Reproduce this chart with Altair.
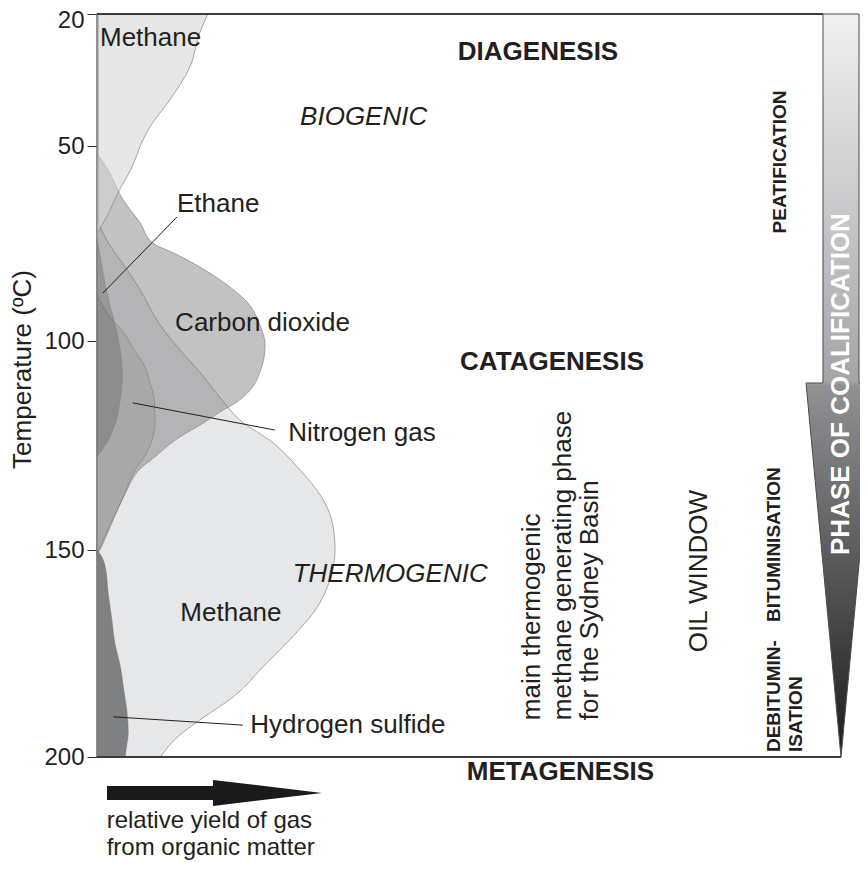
import altair as alt
import pandas as pd

# ---------------- data (temperature in degC, relative gas yield 0-100) ----------------
T_TICKS = [20, 50, 100, 150, 200]

METHANE_BIO_T = [20, 24.3, 32.0, 39.5, 45.7, 49.3, 55.4, 62.1, 68.2, 72.3]
METHANE_BIO_Y = [14.9, 13.8, 12.5, 9.8, 7.1, 6.0, 4.7, 2.8, 1.3, 0]

CO2_T = [51.8, 56.9, 63.8, 69.7, 74.9, 77.9, 81.0, 86.2, 90.3, 95.9, 101.0, 106.9,
         111.7, 114.6, 117.0, 119.4, 123.7, 127.7, 130.4, 136.4, 143.5, 148.8, 151.2]
CO2_Y = [0, 1.7, 3.5, 5.8, 7.5, 10.8, 13.8, 17.9, 20.3, 21.9, 22.6, 22.0,
         20.6, 18.8, 16.5, 14.5, 10.5, 7.8, 5.9, 3.8, 2.0, 0.7, 0]

METHANE_TH_T = [69.0, 75.4, 81.0, 86.9, 95.9, 102.2, 107.4, 114.1, 118.9, 124.4, 130.1,
                138.0, 144.0, 150.0, 157.2, 163.8, 171.7, 177.3, 185.5, 191.1, 195.2, 200]
METHANE_TH_Y = [0, 1.7, 3.8, 5.8, 8.5, 11.2, 13.8, 16.8, 19.2, 23.7, 26.9,
                30.4, 31.7, 32.0, 31.3, 29.6, 25.9, 22.8, 18.3, 13.8, 10.8, 8.5]

NITROGEN_T = [88.2, 93.3, 97.9, 102.2, 105.3, 109.8, 114.1, 118.9, 123.7, 127.3, 130.9,
              138.0, 144.5, 149.5, 151.2]
NITROGEN_Y = [0, 1.5, 3.6, 5.0, 6.2, 7.1, 7.7, 7.8, 7.4, 6.5, 5.1, 3.4, 1.6, 0.4, 0]

ETHANE_T = [73.6, 79.2, 85.6, 90.8, 97.2, 103.3, 108.1, 114.1, 120.1, 124.4, 127.7]
ETHANE_Y = [0, 0.5, 1.1, 1.7, 2.6, 3.2, 3.4, 3.1, 2.4, 1.3, 0]

H2S_T = [150, 151.5, 154.0, 160.4, 166.9, 172.5, 177.8, 183.8, 188.6, 194.2, 198.3, 200]
H2S_Y = [0, 0.6, 1.1, 1.5, 2.0, 2.4, 3.1, 3.6, 4.0, 4.2, 3.9, 3.8]

# gas labels
GAS_LABELS = ["Methane", "Ethane", "Carbon dioxide", "Nitrogen gas", "Methane", "Hydrogen sulfide"]
GAS_LABEL_X = [0.4, 10.75, 10.5, 25.7, 11.2, 20.6]
GAS_LABEL_T = [25.5, 64.9, 95.4, 122.0, 165.2, 192.3]

# leader lines (from shape to label)
LEADER_X1 = [0.8, 4.8, 2.2]
LEADER_T1 = [87.7, 114.8, 190.3]
LEADER_X2 = [10.75, 23.9, 19.6]
LEADER_T2 = [68.2, 121.3, 192.3]

ORIGIN_LABELS = ["BIOGENIC", "THERMOGENIC"]
ORIGIN_X = [27.3, 26.3]
ORIGIN_T = [43.4, 155.8]

STAGE_LABELS = ["DIAGENESIS", "CATAGENESIS", "METAGENESIS"]
STAGE_X = [48.5, 48.8, 49.7]
STAGE_T = [28.6, 105.0, 203.6]

PHASE_LINES = ["main thermogenic", "methane generating phase", "for the Sydney Basin"]
PHASE_X = [58.5, 62.6, 66.3]
PHASE_T = [191.1, 191.1, 191.1]

OIL_LABEL = ["OIL WINDOW"]
OIL_X = [80.9]
OIL_T = [155.1]

COAL_STAGE_LABELS = ["BITUMINISATION", "DEBITUMIN-", "ISATION"]
COAL_STAGE_X = [91.0, 91.0, 94.0]
COAL_STAGE_T = [167.4, 198.8, 198.8]

PEAT_LABEL = ["PEATIFICATION"]
PEAT_X = [91.8]
PEAT_T = [54.1]

COAL_ARROW_LABEL = ["PHASE OF COALIFICATION"]
COAL_ARROW_LABEL_X = [100.0]
COAL_ARROW_LABEL_T = [151.2]

# coalification arrow outline (temperature, left / right yield edges)
COAL_ARROW_T = [20, 110.05, 110.05, 200]
COAL_ARROW_L = [97.58, 97.58, 95.3, 100.0]
COAL_ARROW_R = [102.42, 102.42, 104.7, 100.0]

# relative-yield arrow below the chart
YIELD_ARROW_X = [1.34, 15.59, 15.59, 30.24]
YIELD_ARROW_T_TOP = [207.0, 207.0, 205.55, 208.69]
YIELD_ARROW_T_BOT = [210.38, 210.38, 211.83, 208.69]

YIELD_TEXT = ["relative yield of gas", "from organic matter"]
YIELD_TEXT_X = [1.3, 1.3]
YIELD_TEXT_T = [217.15, 223.67]

FRAME_T = [20, 200]
FRAME_X_END = [97.58, 100.0]

# ---------------- chart helpers ----------------
FONT = "Liberation Sans"
INK = "#231f20"

xscale = alt.Scale(domain=[0, 100], nice=False, zero=False)
yscale = alt.Scale(domain=T_TICKS, range=[0, 132, 327, 536, 743], nice=False, zero=False)
yaxis = alt.Axis(
    values=T_TICKS, grid=False, labelFont=FONT, labelFontSize=24, labelColor=INK,
    tickSize=10, tickColor="#333333", tickWidth=1, labelPadding=3,
    labelOffset={"condition": {"test": "datum.value == 20", "value": 6}, "value": 0},
    domainColor="#3c3c3c", domainWidth=2,
    titleFont=FONT, titleFontSize=26, titleFontWeight="normal", titleColor=INK,
    titleAngle=270, titleAlign="center", titleBaseline="middle",
    titleX=-75, titleY=355,
)


def X(field):
    return alt.X(field, type="quantitative", scale=xscale, axis=None)


def Y(field):
    return alt.Y(field, type="quantitative", scale=yscale, axis=yaxis, title="Temperature (ºC)")


def gas_area(T, Y_, **mark):
    df = pd.DataFrame({"T": T, "x": Y_, "x0": [0] * len(T)})
    return alt.Chart(df).mark_area(orient="horizontal", interpolate="monotone", **mark).encode(
        y=Y("T"), x=X("x"), x2=alt.X2("x0:Q")
    )


def text_layer(texts, xs, ts, **mark):
    df = pd.DataFrame({"label": texts, "x": xs, "T": ts})
    return alt.Chart(df).mark_text(font=FONT, **mark).encode(
        x=X("x"), y=Y("T"), text="label:N"
    )


OUTLINE = dict(stroke="#858585", strokeWidth=0.7)

layers = [
    gas_area(METHANE_TH_T, METHANE_TH_Y, fill="#e6e7e8", fillOpacity=1, **OUTLINE),
    gas_area(CO2_T, CO2_Y, fill="#747577", fillOpacity=0.44, **OUTLINE),
    gas_area(METHANE_BIO_T, METHANE_BIO_Y, fill="#d4d5d7", fillOpacity=0.59, **OUTLINE),
    gas_area(NITROGEN_T, NITROGEN_Y, fill="#000000", fillOpacity=0.067, **OUTLINE),
    gas_area(ETHANE_T, ETHANE_Y, fill="#000000", fillOpacity=0.155, **OUTLINE),
    gas_area(H2S_T, H2S_Y, fill="#7f8082", fillOpacity=1, stroke="#777777", strokeWidth=0.5),
]

# frame lines (top and bottom)
frame_df = pd.DataFrame({"T": FRAME_T, "x0": [0, 0], "x1": FRAME_X_END})
layers.append(
    alt.Chart(frame_df).mark_rule(color="#3c3c3c", strokeWidth=2).encode(
        y=Y("T"), x=X("x0"), x2=alt.X2("x1:Q")
    )
)

# leader lines
lead_df = pd.DataFrame({"x": LEADER_X1, "T": LEADER_T1, "x2": LEADER_X2, "T2": LEADER_T2})
layers.append(
    alt.Chart(lead_df).mark_rule(color=INK, strokeWidth=1).encode(
        x=X("x"), y=Y("T"), x2=alt.X2("x2:Q"), y2=alt.Y2("T2:Q")
    )
)

# coalification arrow with gradient
coal_grad = alt.Gradient(
    gradient="linear",
    stops=[
        alt.GradientStop(color="#f0f0f1", offset=0),
        alt.GradientStop(color="#a4a5a7", offset=0.495),
        alt.GradientStop(color="#909193", offset=0.5),
        alt.GradientStop(color="#1e1c1d", offset=1),
    ],
    x1=0, x2=0, y1=0, y2=1,
)
coal_df = pd.DataFrame({"T": COAL_ARROW_T, "l": COAL_ARROW_L, "r": COAL_ARROW_R})
layers.append(
    alt.Chart(coal_df).mark_area(orient="horizontal", fill=coal_grad, stroke="#4a4a4a", strokeWidth=1).encode(
        y=Y("T"), x=X("l"), x2=alt.X2("r:Q")
    )
)

# relative yield arrow
ya_df = pd.DataFrame({"x": YIELD_ARROW_X, "T": YIELD_ARROW_T_TOP, "T2": YIELD_ARROW_T_BOT})
layers.append(
    alt.Chart(ya_df).mark_area(orient="vertical", fill="#1a1a1a").encode(
        x=X("x"), y=Y("T"), y2=alt.Y2("T2:Q")
    )
)

# texts
layers += [
    text_layer(GAS_LABELS, GAS_LABEL_X, GAS_LABEL_T, fontSize=26, align="left", baseline="middle", color=INK),
    text_layer(ORIGIN_LABELS, ORIGIN_X, ORIGIN_T, fontSize=26, fontStyle="italic", align="left",
               baseline="middle", color=INK),
    text_layer(STAGE_LABELS, STAGE_X, STAGE_T, fontSize=26, fontWeight="bold", align="left",
               baseline="middle", color=INK),
    text_layer(PHASE_LINES, PHASE_X, PHASE_T, fontSize=26, angle=270, align="left",
               baseline="middle", color=INK),
    text_layer(OIL_LABEL, OIL_X, OIL_T, fontSize=26, angle=270, align="center",
               baseline="middle", color=INK),
    text_layer(COAL_STAGE_LABELS, COAL_STAGE_X, COAL_STAGE_T, fontSize=19, fontWeight="bold",
               angle=270, align="left", baseline="middle", color=INK),
    text_layer(PEAT_LABEL, PEAT_X, PEAT_T, fontSize=19, fontWeight="bold", angle=270,
               align="center", baseline="middle", color=INK),
    text_layer(COAL_ARROW_LABEL, COAL_ARROW_LABEL_X, COAL_ARROW_LABEL_T, fontSize=26,
               fontWeight="bold", angle=270, align="left", baseline="middle", color="#ffffff"),
    text_layer(YIELD_TEXT, YIELD_TEXT_X, YIELD_TEXT_T, fontSize=24, align="left",
               baseline="alphabetic", color=INK),
]

chart = (
    alt.layer(*layers)
    .properties(
        width=744,
        height=743,
        autosize=alt.AutoSizeParams(type="none"),
        padding={"left": 89, "top": 6, "right": 19, "bottom": 103},
        background="#ffffff",
    )
    .configure_view(stroke=None)
)

chart.save("out.html", embed_options={"renderer": "svg", "actions": False})
